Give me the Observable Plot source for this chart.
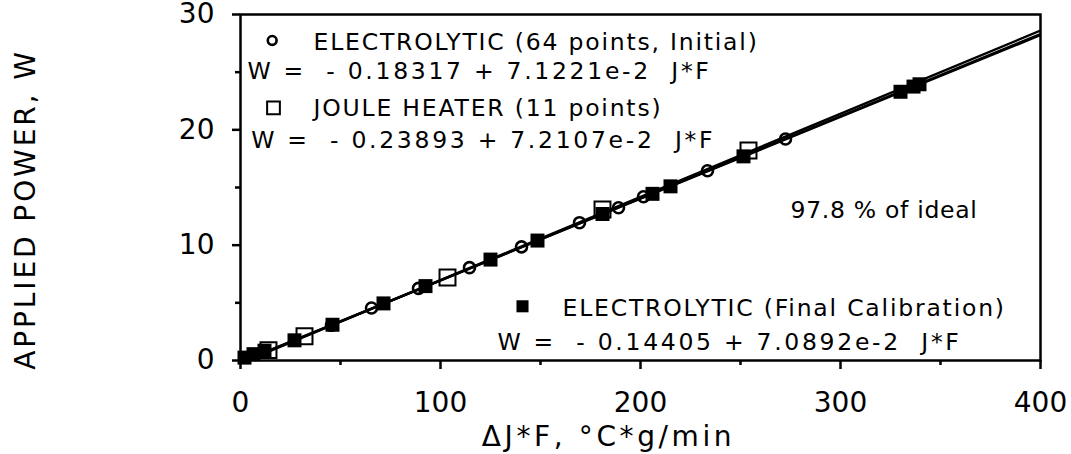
<!DOCTYPE html>
<html>
<head>
<meta charset="utf-8">
<script src="https://cdn.jsdelivr.net/npm/d3@7"></script>
<script src="https://cdn.jsdelivr.net/npm/@observablehq/plot@0.6"></script>
<style>
  html, body { margin: 0; padding: 0; background: #fff; }
  svg text { white-space: pre; }
</style>
</head>
<body>
<div id="chart"></div>
<script>
// ---- data ----
const xTicks = [0, 100, 200, 300, 400];
const xMinorTicks = [50, 150, 250, 350];
const yTicks = [0, 10, 20, 30];
const yMinorTicks = [5, 15, 25];

// Electrolytic (64 points, Initial) - open circles
const initialX = [45.5, 65.5, 89, 114.5, 140.5, 169.5, 189, 201.5, 233.5, 272.5];
const initialY = [3.05, 4.55, 6.25, 8.05, 9.85, 11.95, 13.25, 14.2, 16.45, 19.2];

// Joule heater (11 points) - open squares
const jouleX = [14, 32, 103.5, 181, 254];
const jouleY = [0.9, 2.1, 7.2, 13.1, 18.2];

// Electrolytic (Final Calibration) - filled squares
const finalX = [2, 6.5, 12, 27, 46, 71.5, 92.5, 125, 148.5, 181, 206, 215, 251.5, 330, 336.5, 339.5];
const finalY = [0.25, 0.55, 0.85, 1.75, 3.1, 4.95, 6.45, 8.75, 10.4, 12.7, 14.45, 15.1, 17.7, 23.3, 23.75, 23.95];

// fitted lines W = a + b * J*F
const fitNames = ["initial", "joule", "final"];
const fitIntercepts = [-0.18317, -0.23893, -0.14405];
const fitSlopes = [7.1221e-2, 7.2107e-2, 7.0892e-2];
const fitRange = [0, 400];

const legendTitles = [
  "ELECTROLYTIC (64 points, Initial)",
  "JOULE HEATER (11 points)",
  "ELECTROLYTIC (Final Calibration)"
];
const eqTexts = [
  "W =  - 0.18317 + 7.1221e-2  J*F",
  "W =  - 0.23893 + 7.2107e-2  J*F",
  "W =  - 0.14405 + 7.0892e-2  J*F"
];
const idealText = "97.8 % of ideal";
const xTitle = "\u0394J*F, \u00B0C*g/min";
const yTitle = "APPLIED POWER, W";

// ---- build tables ----
const initial = initialX.map((x, i) => ({x, y: initialY[i]}));
const joule = jouleX.map((x, i) => ({x, y: jouleY[i]}));
const final = finalX.map((x, i) => ({x, y: finalY[i]}));
const fits = fitNames.flatMap((name, i) =>
  fitRange.map(x => ({name, x, y: fitIntercepts[i] + fitSlopes[i] * x})));

const FONT = "DejaVu Sans";
const legFS = 23.5;

const chart = Plot.plot({
  width: 1071,
  height: 454,
  marginLeft: 240,
  marginRight: 31,
  marginTop: 14,
  marginBottom: 94,
  style: {fontFamily: FONT, background: "#fff", color: "#000", overflow: "visible"},
  x: {domain: [0, 400]},
  y: {domain: [0, 30]},
  marks: [
    Plot.line(fits, {x: "x", y: "y", z: "name", stroke: "#000", strokeWidth: 2.4, clip: true}),
    Plot.dot(final, {x: "x", y: "y", symbol: "square", r: 7.9, fill: "#000", stroke: "none"}),
    Plot.dot(joule, {x: "x", y: "y", symbol: "square", r: 9, fill: "none", stroke: "#000", strokeWidth: 2}),
    Plot.dot(initial, {x: "x", y: "y", symbol: "circle", r: 5.5, fill: "none", stroke: "#000", strokeWidth: 2.6}),
    Plot.frame({stroke: "#000", strokeWidth: 2.5}),
    Plot.axisX({ticks: xTicks, tickSize: 9, tickPadding: 23, fontSize: 28, strokeWidth: 2.5, label: null}),
    Plot.axisX({ticks: xMinorTicks, tickSize: 5, tickFormat: () => "", strokeWidth: 2.5, label: null}),
    Plot.axisY({ticks: yTicks, tickSize: 8, tickPadding: 18, fontSize: 28, strokeWidth: 2.5, label: null}),
    Plot.axisY({ticks: yMinorTicks, tickSize: 5, tickFormat: () => "", strokeWidth: 2.5, label: null}),
    // legend symbols
    Plot.dot([{x: 15.85, y: 27.75}], {x: "x", y: "y", symbol: "circle", r: 4.4, fill: "none", stroke: "#000", strokeWidth: 2.6}),
    Plot.dot([{x: 16.5, y: 21.9}], {x: "x", y: "y", symbol: "square", r: 7.2, fill: "none", stroke: "#000", strokeWidth: 2}),
    Plot.dot([{x: 141, y: 4.7}], {x: "x", y: "y", symbol: "square", r: 6.8, fill: "#000", stroke: "none"}),
    // legend texts
    Plot.text([
      {x: 36.5, y: 27.6, t: legendTitles[0]},
      {x: 36.5, y: 21.85, t: legendTitles[1]},
      {x: 275, y: 13.0, t: idealText},
      {x: 161, y: 4.5, t: legendTitles[2]}
    ], {x: "x", y: "y", text: "t", textAnchor: "start", fontSize: legFS, fill: "#000"}),
    Plot.text([
      {x: 3.5, y: 25.06, t: eqTexts[0]},
      {x: 5.35, y: 19.08, t: eqTexts[1]},
      {x: 128.5, y: 1.6, t: eqTexts[2]}
    ], {x: "x", y: "y", text: "t", textAnchor: "start", fontSize: legFS, fill: "#000"}),
    // axis titles
    Plot.text([xTitle], {frameAnchor: "bottom", lineAnchor: "middle", dx: -32, dy: 77, fontSize: 28, fill: "#000"}),
    Plot.text([yTitle], {frameAnchor: "left", textAnchor: "middle", lineAnchor: "middle", dx: -214, dy: 22, rotate: -90, fontSize: 28, fill: "#000"})
  ]
});

// letter spacing tweaks (Plot has no letterSpacing option)
d3.select(chart).selectAll("text").each(function() {
  const t = this.textContent;
  if (eqTexts.includes(t)) this.style.letterSpacing = "2.7px";
  else if (legendTitles.includes(t)) this.style.letterSpacing = "1.8px";
  else if (t === idealText) this.style.letterSpacing = "0.7px";
  else if (t === xTitle) this.style.letterSpacing = "3.6px";
  else if (t === yTitle) this.style.letterSpacing = "2.9px";
});
document.getElementById("chart").appendChild(chart);
</script>
</body>
</html>
